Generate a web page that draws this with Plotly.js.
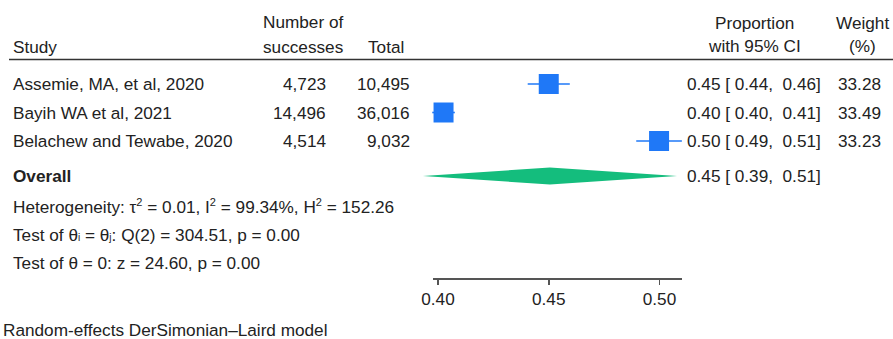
<!DOCTYPE html>
<html>
<head>
<meta charset="utf-8">
<script src="https://cdn.plot.ly/plotly-3.0.1.min.js"></script>
<style>html,body{margin:0;padding:0;background:#fff;}#chart{width:893px;height:339px;}</style>
</head>
<body>
<div id="chart"></div>
<script>
// ---- data ----
const studies = ["Assemie, MA, et al, 2020", "Bayih WA et al, 2021", "Belachew and Tewabe, 2020"];
const successes = [4723, 14496, 4514];
const totals = [10495, 36016, 9032];
const proportion = [0.4500, 0.4025, 0.4998];
const ciLow = [0.4405, 0.3974, 0.4895];
const ciHigh = [0.4595, 0.4076, 0.5101];
const weights = [33.28, 33.49, 33.23];
const overallEst = 0.4505;
const overallLow = 0.3932;
const overallHigh = 0.5079;
const tickVals = [0.40, 0.45, 0.50];
const tickLabels = ["0.40", "0.45", "0.50"];
const statLines = [
  "Heterogeneity: \u03c4<sup><span style=\"font-size:11px\">2</span></sup> = 0.01, I<sup><span style=\"font-size:11px\">2</span></sup> = 99.34%, H<sup><span style=\"font-size:11px\">2</span></sup> = 152.26",
  "Test of \u03b8<span style=\"font-size:10px\">i</span> = \u03b8<span style=\"font-size:10px\">j</span>: Q(2) = 304.51, p = 0.00",
  "Test of \u03b8 = 0: z = 24.60, p = 0.00"
];
const footnote = "Random-effects DerSimonian\u2013Laird model";

// ---- layout constants ----
const W = 893, H = 339;
const pxPerUnit = 2215, x040 = 438;
const xL = 0.40 - x040 / pxPerUnit, xR = xL + W / pxPerUnit;
const rowY = [84, 112.5, 141];
const overallY = 176, statY = [206, 235, 263], footY = 330;
const axisY = 278, axisX0 = 433, axisX1 = 682;
const FONT = "Liberation Sans, Arial, Helvetica, sans-serif";
const TXT = "#222222";
const BLUE = "#1f78f7", GREEN = "#14bd7d";

function fmt(n){ return String(n).replace(/\B(?=(\d{3})+(?!\d))/g, ","); }
function ci(p, lo, hi){ return p.toFixed(2) + " [\u00a0" + lo.toFixed(2) + ",\u00a0\u00a0" + hi.toFixed(2) + "]"; }
function ann(text, xpx, y, anchor, extra){
  return Object.assign({text: text, x: xpx / W, xref: "paper", y: y, yref: "y",
    xanchor: anchor, yanchor: "middle", showarrow: false, borderpad: 0, borderwidth: 0,
    font: {family: FONT, size: 17.2, color: TXT}}, extra || {});
}

const annotations = [];
// headers
annotations.push(ann("Study", 13, 47, "left"));
annotations.push(ann("Number of", 343, 22, "right"));
annotations.push(ann("successes", 343, 47, "right"));
annotations.push(ann("Total", 404, 47, "right"));
annotations.push(ann("Proportion", 754, 23, "center"));
annotations.push(ann("with 95% CI", 754, 46, "center"));
annotations.push(ann("Weight", 862, 23, "center"));
annotations.push(ann("(%)", 862, 46, "center"));
// rows
studies.forEach((s, i) => {
  annotations.push(ann(s, 13, rowY[i], "left"));
  annotations.push(ann(fmt(successes[i]), 326, rowY[i], "right"));
  annotations.push(ann(fmt(totals[i]), 410, rowY[i], "right"));
  annotations.push(ann(ci(proportion[i], ciLow[i], ciHigh[i]), 687, rowY[i], "left"));
  annotations.push(ann(weights[i].toFixed(2), 881, rowY[i], "right"));
});
annotations.push(ann("<b>Overall</b>", 13, overallY, "left"));
annotations.push(ann(ci(overallEst, overallLow, overallHigh), 687, overallY, "left"));
statLines.forEach((t, i) => annotations.push(ann(t, 13, statY[i], "left")));
annotations.push(ann(footnote, 3, footY, "left"));

const traces = [
  {
    type: "scatter", mode: "markers", x: proportion, y: rowY, xaxis: "x", yaxis: "y",
    marker: {symbol: "square", size: 20, color: BLUE, line: {width: 0}},
    error_x: {type: "data", symmetric: false,
      array: proportion.map((p, i) => ciHigh[i] - p),
      arrayminus: proportion.map((p, i) => p - ciLow[i]),
      color: BLUE, thickness: 1.6, width: 0},
    hoverinfo: "skip", cliponaxis: false
  },
  {
    type: "scatter", mode: "lines", fill: "toself",
    x: [overallLow, overallEst, overallHigh, overallEst, overallLow],
    y: [overallY, overallY - 8.5, overallY, overallY + 8.5, overallY],
    xaxis: "x", yaxis: "y",
    line: {width: 0, color: GREEN}, fillcolor: GREEN, hoverinfo: "skip"
  },
  {
    type: "scatter", mode: "markers", x: [tickVals[1]], y: [-100], xaxis: "x2", yaxis: "y",
    marker: {opacity: 0}, hoverinfo: "skip"
  }
];

const layout = {
  width: W, height: H, margin: {l: 0, r: 0, t: 0, b: 0},
  paper_bgcolor: "#ffffff", plot_bgcolor: "rgba(0,0,0,0)", showlegend: false,
  font: {family: FONT, size: 17, color: TXT},
  xaxis: {domain: [0, 1], range: [xL, xR], visible: false, fixedrange: true},
  yaxis: {domain: [0, 1], range: [H, 0], visible: false, fixedrange: true},
  xaxis2: {
    anchor: "free", position: 1 - axisY / H,
    domain: [axisX0 / W, axisX1 / W],
    range: [0.40 - (x040 - axisX0) / pxPerUnit, 0.40 + (axisX1 - x040) / pxPerUnit],
    showline: true, linecolor: "#555555", linewidth: 1.5,
    ticks: "outside", ticklen: 5, tickwidth: 1.5, tickcolor: "#555555",
    tickvals: tickVals, ticktext: tickLabels,
    tickfont: {family: FONT, size: 17.2, color: TXT},
    showgrid: false, zeroline: false, fixedrange: true
  },
  shapes: [
    {type: "line", xref: "paper", yref: "y", x0: 9 / W, x1: 1, y0: 59.5, y1: 59.5,
     line: {color: "#333333", width: 1.5}}
  ],
  annotations: annotations
};

Plotly.newPlot("chart", traces, layout, {staticPlot: true, displayModeBar: false});
</script>
</body>
</html>
